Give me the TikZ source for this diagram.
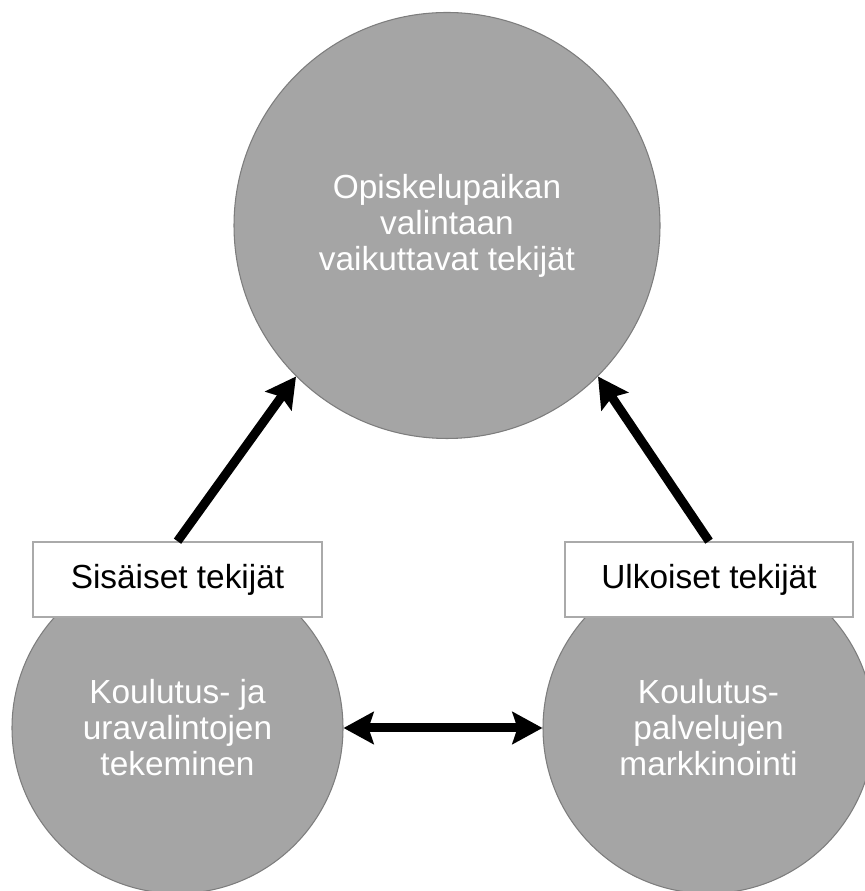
\documentclass[tikz,border=0pt]{standalone}
\usepackage{fontspec}
\setmainfont{Liberation Sans}
\usetikzlibrary{arrows.meta}
\definecolor{ballgray}{RGB}{165, 165, 165}
\definecolor{ballline}{RGB}{125, 125, 125}
\definecolor{tagline}{RGB}{170, 170, 170}
\tikzset{
	ball/.style = {circle, fill = ballgray, draw = ballline, line width = 0.6pt, text = white, align = center, inner sep = 0pt, font = \fontsize{19}{20.5}\selectfont},
	tag/.style = {rectangle, fill = white, draw = tagline, line width = 0.9pt, minimum width = 5.78cm, minimum height = 1.5cm, inner sep = 0pt, font = \fontsize{19}{21}\selectfont},
	fat/.style = {line width = 0.18cm, >={Stealth[length=0.6cm, width=0.64cm, inset=0.1cm]}}
}

\begin{document}
\begin{tikzpicture}
			\useasboundingbox (0,0) rectangle (17.28,17.82);
			\node (top) at (8.94,13.31) [ball, minimum size = 8.52cm] {Opiskelupaikan\\valintaan\\vaikuttavat tekijät};
			\node (koul) at (3.55,3.26) [ball, minimum size = 6.62cm] {Koulutus- ja\\uravalintojen\\tekeminen};
			\node (mark) at (14.17,3.26) [ball, minimum size = 6.62cm] {Koulutus-\\palvelujen\\markkinointi};
			\node (sis) at (3.55,6.23) [tag] {Sisäiset tekijät};
			\node (ulk) at (14.18,6.23) [tag, minimum width = 5.76cm] {Ulkoiset tekijät};
			\draw[fat, ->] (sis.north) -- (top.225);
			\draw[fat, ->] (ulk.north) -- (top.315);
			\draw[fat, <->] (koul.east) -- (mark.west);
\end{tikzpicture}
\end{document}
